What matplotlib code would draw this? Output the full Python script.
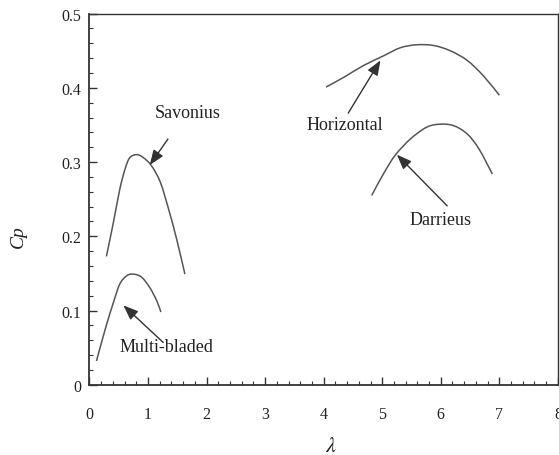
import matplotlib.pyplot as plt
from matplotlib.path import Path
from matplotlib.patches import PathPatch

plt.rcParams['font.family'] = ['Liberation Serif', 'DejaVu Serif']
plt.rcParams['mathtext.fontset'] = 'stix'

# power coefficient curves, read as (tip speed ratio, Cp)
sav_x = [0.29, 0.41, 0.52, 0.61, 0.69, 0.81, 0.92, 1.06, 1.21, 1.35, 1.49, 1.63]
sav_y = [0.173, 0.219, 0.264, 0.291, 0.306, 0.310, 0.306, 0.295, 0.273, 0.237, 0.196, 0.149]

multi_x = [0.12, 0.27, 0.41, 0.52, 0.64, 0.75, 0.89, 1.03, 1.15, 1.22]
multi_y = [0.032, 0.075, 0.111, 0.136, 0.147, 0.149, 0.145, 0.131, 0.113, 0.098]

hor_x = [4.04, 4.34, 4.68, 5.02, 5.31, 5.59, 5.88, 6.16, 6.45, 6.73, 7.0]
hor_y = [0.401, 0.414, 0.430, 0.443, 0.454, 0.458, 0.457, 0.450, 0.437, 0.416, 0.390]

dar_x = [4.82, 5.02, 5.22, 5.48, 5.76, 5.99, 6.22, 6.45, 6.65, 6.88]
dar_y = [0.255, 0.284, 0.309, 0.331, 0.347, 0.351, 0.349, 0.338, 0.318, 0.284]

# labels: text, text position, arrow tail and head
labels = ['Savonius', 'Multi-bladed', 'Horizontal', 'Darrieus']
label_pos = [(1.68, 0.367), (1.32, 0.052), (4.36, 0.351), (6.0, 0.223)]
arrow_tail = [(1.34, 0.331), (1.26, 0.057), (4.42, 0.366), (6.11, 0.241)]
arrow_head = [(1.03, 0.296), (0.58, 0.107), (4.97, 0.437), (5.25, 0.310)]


def smooth_path(xs, ys):
    # Catmull-Rom through the points, drawn as cubic bezier segments
    pts = list(zip(xs, ys))
    verts = [pts[0]]
    codes = [Path.MOVETO]
    n = len(pts)
    for i in range(n - 1):
        p0 = pts[i - 1] if i > 0 else pts[i]
        p1 = pts[i]
        p2 = pts[i + 1]
        p3 = pts[i + 2] if i + 2 < n else pts[i + 1]
        c1 = (p1[0] + (p2[0] - p0[0]) / 6, p1[1] + (p2[1] - p0[1]) / 6)
        c2 = (p2[0] - (p3[0] - p1[0]) / 6, p2[1] - (p3[1] - p1[1]) / 6)
        verts += [c1, c2, p2]
        codes += [Path.CURVE4] * 3
    return Path(verts, codes)


fig = plt.figure(figsize=(5.59, 4.56), dpi=100)
ax = fig.add_axes([0.160, 0.154, 0.838, 0.814])

line_c = '#555555'
for xs, ys in [(sav_x, sav_y), (multi_x, multi_y), (hor_x, hor_y), (dar_x, dar_y)]:
    ax.add_patch(PathPatch(smooth_path(xs, ys), facecolor='none',
                           edgecolor=line_c, linewidth=1.1))

for txt, pos, tail, head in zip(labels, label_pos, arrow_tail, arrow_head):
    ax.text(pos[0], pos[1], txt, ha='center', va='center', fontsize=13, color='#222222')
    ax.annotate('', xy=head, xytext=tail,
                arrowprops=dict(arrowstyle='-|>,head_length=0.9,head_width=0.35',
                                color='#333333', lw=1.0, shrinkA=0, shrinkB=0))

ax.set_xlim(0, 8)
ax.set_ylim(0, 0.5)
ax.set_xticks(range(0, 9))
ax.set_yticks([0, 0.1, 0.2, 0.3, 0.4, 0.5])
ax.set_yticklabels(['0', '0.1', '0.2', '0.3', '0.4', '0.5'])
ax.set_xticks([i * 0.2 for i in range(41)], minor=True)
ax.set_yticks([i * 0.02 for i in range(26)], minor=True)
ax.tick_params(which='major', direction='in', length=6, width=1.0, labelsize=11.5,
               top=False, right=False, colors='#333333', labelcolor='#222222')
ax.tick_params(which='minor', direction='in', length=3, width=0.8,
               top=False, right=False, colors='#333333')
ax.tick_params(axis='x', which='major', pad=15)
ax.tick_params(axis='y', which='major', pad=6)
for s in ax.spines.values():
    s.set_linewidth(1.3)
    s.set_color('#333333')
ax.spines['top'].set_linewidth(1.0)
ax.spines['right'].set_linewidth(1.0)

fig.text(18 / 559, 1 - 237 / 456, 'Cp', rotation=90, ha='center', va='center',
         fontsize=14, style='italic', color='#222222')
fig.text(331 / 559, 1 - 448 / 456, r'$\lambda$', ha='center', va='center',
         fontsize=16, color='#222222')

fig.savefig('out.png', dpi=100)
